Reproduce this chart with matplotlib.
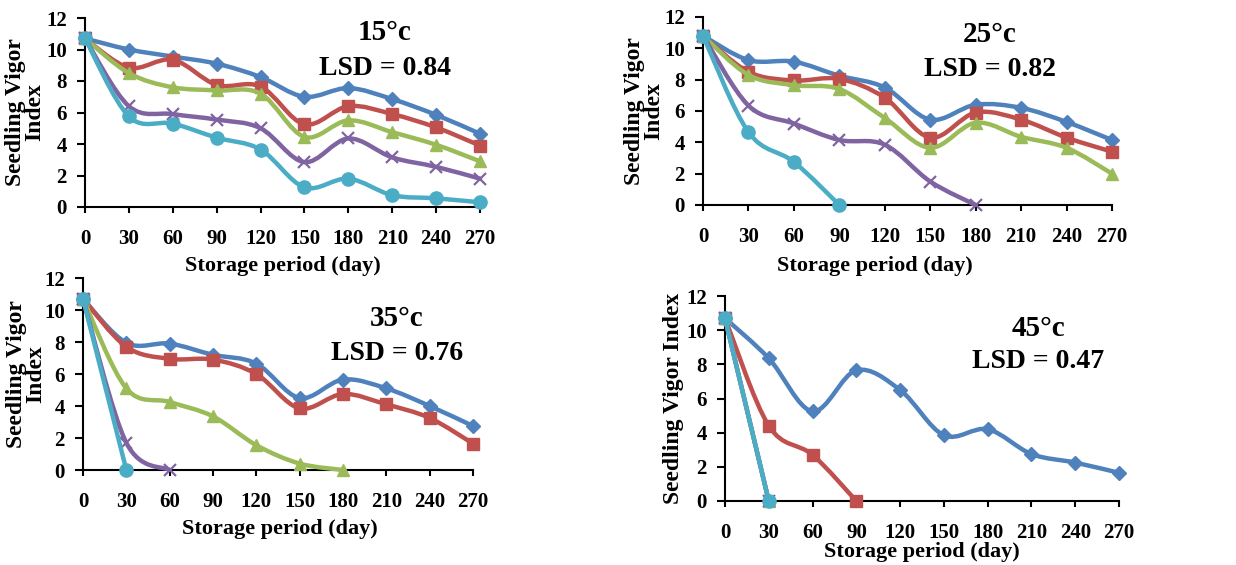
import matplotlib
matplotlib.use("Agg")
import matplotlib.pyplot as plt
from matplotlib.path import Path
from matplotlib.patches import PathPatch
import numpy as np

plt.rcParams['font.family'] = ['Liberation Serif', 'DejaVu Serif']
plt.rcParams['font.weight'] = 'bold'

W, H = 1236, 565

days = [0, 30, 60, 90, 120, 150, 180, 210, 240, 270]
x_ticks = [0, 30, 60, 90, 120, 150, 180, 210, 240, 270]
y_ticks = [0, 2, 4, 6, 8, 10, 12]

# 15 C
t15_s1 = [10.7, 10.0, 9.55, 9.1, 8.25, 7.0, 7.55, 6.85, 5.85, 4.65]
t15_s2 = [10.7, 8.85, 9.35, 7.75, 7.65, 5.25, 6.4, 5.9, 5.05, 3.9]
t15_s3 = [10.7, 8.5, 7.6, 7.4, 7.2, 4.45, 5.5, 4.75, 3.95, 2.9]
t15_s4 = [10.7, 6.4, 5.9, 5.55, 5.0, 2.85, 4.35, 3.15, 2.55, 1.8]
t15_s5 = [10.7, 5.75, 5.3, 4.4, 3.65, 1.25, 1.8, 0.75, 0.55, 0.3]

# 25 C
t25_s1 = [10.8, 9.25, 9.15, 8.25, 7.5, 5.45, 6.4, 6.2, 5.3, 4.15]
t25_s2 = [10.8, 8.5, 7.95, 8.05, 6.85, 4.3, 5.9, 5.45, 4.3, 3.4]
t25_s3 = [10.8, 8.3, 7.65, 7.4, 5.55, 3.65, 5.25, 4.35, 3.65, 2.0]
t25_s4 = [10.8, 6.35, 5.2, 4.15, 3.85, 1.5, 0.0]
t25_s5 = [10.8, 4.65, 2.75, 0.0]

# 35 C
t35_s1 = [10.7, 7.95, 7.9, 7.2, 6.65, 4.5, 5.65, 5.1, 4.0, 2.75]
t35_s2 = [10.7, 7.7, 6.95, 6.9, 6.0, 3.85, 4.75, 4.1, 3.25, 1.65]
t35_s3 = [10.7, 5.1, 4.25, 3.35, 1.55, 0.4, 0.0]
t35_s4 = [10.7, 1.7, 0.0]
t35_s5 = [10.7, 0.0]

# 45 C
t45_s1 = [10.7, 8.35, 5.25, 7.65, 6.5, 3.85, 4.2, 2.75, 2.25, 1.65]
t45_s2 = [10.7, 4.4, 2.7, 0.0]
t45_s3 = [10.7, 0.0]
t45_s4 = [10.7, 0.0]
t45_s5 = [10.7, 0.0]

colors = ['#4F81BD', '#C0504D', '#9BBB59', '#8064A2', '#4BACC6']
markers = ['D', 's', '^', 'x', 'o']
msizes = [7, 8.5, 8.5, 9, 9.5]

panels = [
    dict(rect=(85, 480, 18, 207), series=[t15_s1, t15_s2, t15_s3, t15_s4, t15_s5],
         title='15°c', lsd='LSD = 0.84', tpos=(385, 33), lpos=(385, 68),
         ylabel='Seedling Vigor\nIndex', ylx=25, xl=(283, 266)),
    dict(rect=(703, 1112, 17, 205), series=[t25_s1, t25_s2, t25_s3, t25_s4, t25_s5],
         title='25°c', lsd='LSD = 0.82', tpos=(990, 35), lpos=(990, 70),
         ylabel='Seedling Vigor\nIndex', ylx=644, xl=(875, 266)),
    dict(rect=(83, 473, 278, 470), series=[t35_s1, t35_s2, t35_s3, t35_s4, t35_s5],
         title='35°c', lsd='LSD = 0.76', tpos=(397, 318), lpos=(397, 353),
         ylabel='Seedling Vigor\nIndex', ylx=26, xl=(280, 529)),
    dict(rect=(725, 1119, 296, 501), series=[t45_s1, t45_s2, t45_s3, t45_s4, t45_s5],
         title='45°c', lsd='LSD = 0.47', tpos=(1038, 328), lpos=(1038, 362),
         ylabel='Seedling Vigor Index', ylx=673, xl=(922, 552)),
]


def smooth_path(xs, ys, t=1/6):
    pts = np.column_stack([xs, ys]).astype(float)
    n = len(pts)
    verts = [pts[0]]
    codes = [Path.MOVETO]
    for i in range(n - 1):
        p0 = pts[i - 1] if i > 0 else pts[i]
        p1 = pts[i]
        p2 = pts[i + 1]
        p3 = pts[i + 2] if i + 2 < n else pts[i + 1]
        c1 = p1 + (p2 - p0) * t
        c2 = p2 - (p3 - p1) * t
        verts += [c1, c2, p2]
        codes += [Path.CURVE4] * 3
    return Path(verts, codes)


fig = plt.figure(figsize=(W / 100, H / 100), dpi=100)

for p in panels:
    x0, x1, top, bot = p['rect']
    ax = fig.add_axes([x0 / W, 1 - bot / H, (x1 - x0) / W, (bot - top) / H])
    for k, vals in enumerate(p['series']):
        xs = days[:len(vals)]
        patch = PathPatch(smooth_path(xs, vals), fill=False, edgecolor=colors[k],
                          lw=3.2, zorder=2 + k, clip_on=False, capstyle='round',
                          joinstyle='round')
        ax.add_patch(patch)
        mew = 1.6 if markers[k] == 'x' else 1.0
        ax.plot(xs, vals, linestyle='none', marker=markers[k], ms=msizes[k],
                color=colors[k], mec=colors[k], mew=mew, zorder=2 + k, clip_on=False)
    ax.set_xlim(0, 270)
    ax.set_ylim(0, 12)
    ax.set_xticks(x_ticks)
    ax.set_yticks(y_ticks)
    ax.set_xticklabels([str(v) for v in x_ticks])
    ax.set_yticklabels([str(v) for v in y_ticks])
    for s in ['top', 'right']:
        ax.spines[s].set_visible(False)
    for s in ['left', 'bottom']:
        ax.spines[s].set_linewidth(1.5)
        ax.spines[s].set_color('black')
    ax.tick_params(axis='x', direction='out', length=4, width=1.5, pad=12, labelsize=15)
    ax.tick_params(axis='y', direction='out', length=6, width=1.5, pad=7, labelsize=15)
    for lab in ax.get_xticklabels() + ax.get_yticklabels():
        lab.set_fontweight('bold')
    ax.patch.set_alpha(0)

    ycen = (top + bot) / 2
    fig.text(p['ylx'] / W, 1 - ycen / H, p['ylabel'], rotation=90, ha='center', va='center',
             fontsize=17, fontweight='bold', linespacing=0.9, multialignment='center')
    fig.text(p['xl'][0] / W, 1 - p['xl'][1] / H, 'Storage period (day)', ha='center',
             va='center', fontsize=16, fontweight='bold')
    fig.text(p['tpos'][0] / W, 1 - p['tpos'][1] / H, p['title'], ha='center', va='center',
             fontsize=21, fontweight='bold')
    fig.text(p['lpos'][0] / W, 1 - p['lpos'][1] / H, p['lsd'], ha='center', va='center',
             fontsize=20, fontweight='bold')

fig.savefig('out.png', dpi=100)
